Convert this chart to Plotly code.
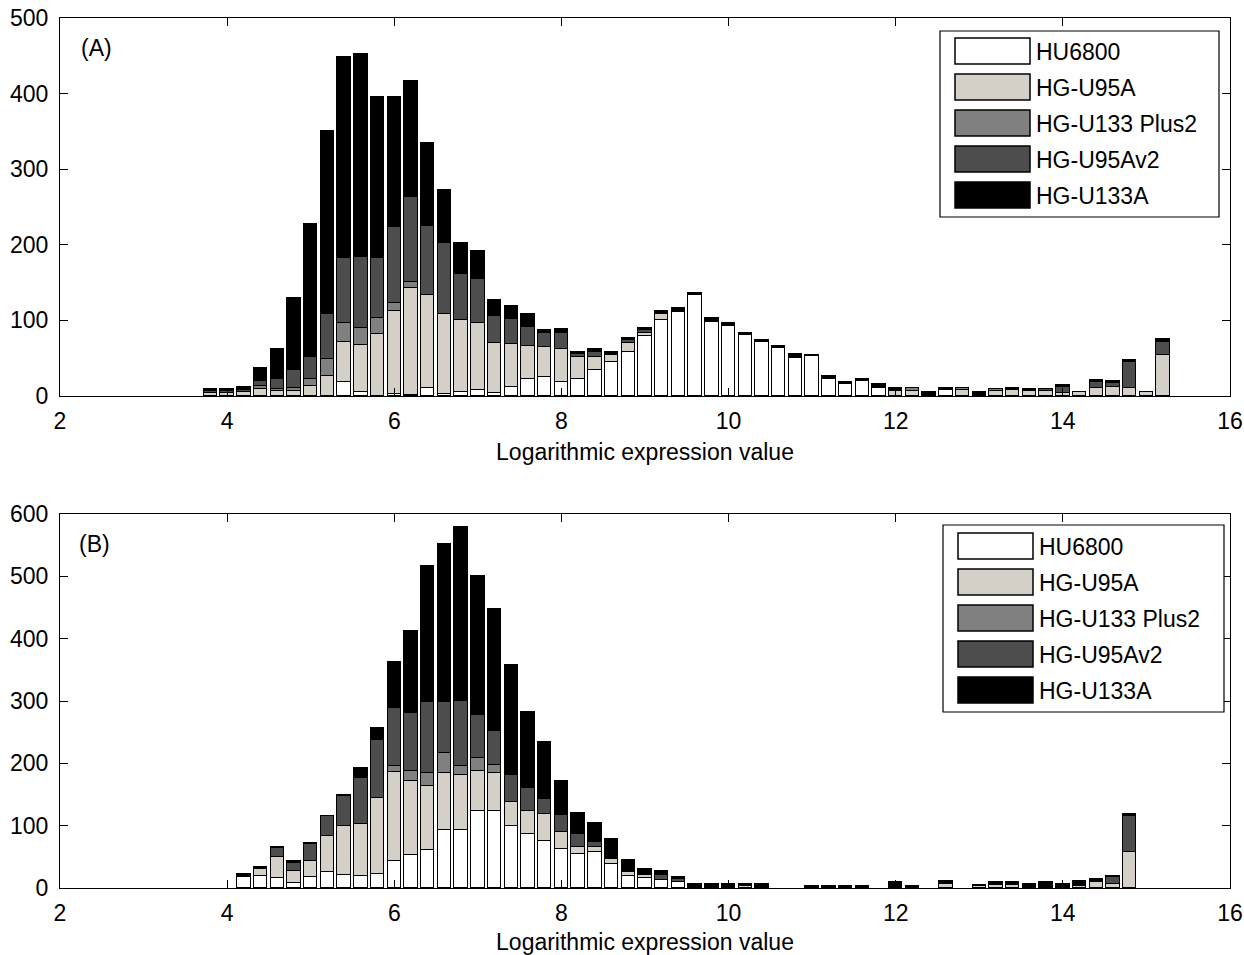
import plotly.graph_objects as go

# ---------------- data ----------------
series_names = ["HU6800", "HG-U95A", "HG-U133 Plus2", "HG-U95Av2", "HG-U133A"]
series_colors = ["#ffffff", "#d4d0c8", "#808080", "#4d4d4d", "#000000"]

bins_a = [3.8, 4.0, 4.2, 4.4, 4.6, 4.8, 5.0, 5.2, 5.4, 5.6, 5.8, 6.0, 6.2, 6.4, 6.6, 6.8,
          7.0, 7.2, 7.4, 7.6, 7.8, 8.0, 8.2, 8.4, 8.6, 8.8, 9.0, 9.2, 9.4, 9.6, 9.8, 10.0,
          10.2, 10.4, 10.6, 10.8, 11.0, 11.2, 11.4, 11.6, 11.8, 12.0, 12.2, 12.4, 12.6, 12.8,
          13.0, 13.2, 13.4, 13.6, 13.8, 14.0, 14.2, 14.4, 14.6, 14.8, 15.0, 15.2]
a_hu6800 = [0, 0, 0, 0, 0, 0, 0, 0, 19, 5, 0, 3, 1, 10, 2, 5,
            8, 4, 12, 22, 25, 19, 22, 35, 45, 58, 79, 100, 111, 133, 98, 93,
            81, 72, 63, 50, 53, 22, 16, 20, 10, 0, 0, 0, 8, 0,
            0, 0, 0, 0, 0, 0, 0, 0, 0, 0, 0, 0]
a_u95a = [4, 4, 5, 9, 7, 6, 13, 27, 53, 63, 82, 110, 142, 124, 106, 96,
          89, 66, 57, 44, 40, 43, 29, 16, 9, 12, 4, 8, 0, 0, 0, 0,
          0, 0, 0, 0, 0, 0, 0, 0, 0, 6, 6, 0, 0, 8,
          0, 6, 8, 6, 7, 4, 5, 10, 12, 10, 5, 54]
a_u133plus2 = [0, 0, 0, 4, 2, 4, 9, 22, 24, 22, 21, 10, 8, 0, 0, 0,
               0, 0, 0, 0, 0, 0, 0, 0, 0, 0, 0, 0, 0, 0, 0, 0,
               0, 0, 0, 0, 0, 0, 0, 0, 0, 0, 5, 0, 0, 3,
               0, 3, 0, 0, 0, 0, 0, 0, 0, 0, 0, 0]
a_u95av2 = [2, 2, 3, 7, 13, 25, 30, 60, 86, 94, 80, 100, 112, 91, 94, 61,
            58, 36, 33, 25, 19, 21, 4, 7, 0, 4, 4, 0, 0, 0, 0, 0,
            0, 0, 0, 0, 0, 0, 0, 0, 0, 0, 0, 0, 0, 0,
            0, 0, 0, 0, 2, 8, 0, 8, 5, 35, 0, 18]
a_u133a = [3, 3, 4, 17, 40, 95, 176, 241, 266, 268, 213, 172, 154, 110, 70, 40,
           37, 21, 17, 18, 3, 5, 3, 4, 4, 3, 3, 4, 5, 3, 5, 3,
           3, 2, 3, 6, 1, 4, 3, 3, 6, 4, 0, 5, 3, 0,
           5, 0, 3, 3, 0, 3, 0, 3, 3, 2, 0, 3]

bins_b = [4.2, 4.4, 4.6, 4.8, 5.0, 5.2, 5.4, 5.6, 5.8, 6.0, 6.2, 6.4, 6.6, 6.8, 7.0, 7.2,
          7.4, 7.6, 7.8, 8.0, 8.2, 8.4, 8.6, 8.8, 9.0, 9.2, 9.4, 9.6, 9.8, 10.0, 10.2, 10.4,
          10.6, 10.8, 11.0, 11.2, 11.4, 11.6, 11.8, 12.0, 12.2, 12.4, 12.6, 12.8, 13.0, 13.2,
          13.4, 13.6, 13.8, 14.0, 14.2, 14.4, 14.6, 14.8]
b_hu6800 = [18, 19, 16, 8, 17, 26, 21, 19, 23, 43, 53, 61, 93, 93, 124, 124,
            99, 86, 75, 63, 54, 57, 38, 20, 16, 13, 9, 0, 0, 0, 0, 0,
            0, 0, 0, 0, 0, 0, 0, 0, 0, 0, 0, 0, 0, 0,
            0, 0, 0, 0, 0, 0, 0, 0]
b_u95a = [2, 11, 34, 20, 27, 58, 78, 84, 122, 143, 119, 102, 92, 88, 63, 61,
          39, 38, 43, 27, 11, 8, 8, 5, 5, 0, 0, 0, 0, 0, 4, 0,
          0, 0, 0, 0, 0, 0, 0, 0, 0, 0, 6, 0, 4, 5,
          5, 0, 0, 0, 4, 10, 7, 57]
b_u133plus2 = [0, 0, 0, 0, 0, 0, 0, 0, 0, 10, 16, 22, 31, 15, 22, 12,
               0, 0, 0, 0, 0, 0, 0, 0, 0, 0, 0, 0, 0, 0, 0, 0,
               0, 0, 0, 0, 0, 0, 0, 0, 0, 0, 0, 0, 0, 0,
               0, 0, 0, 0, 0, 0, 0, 0]
b_u95av2 = [0, 0, 14, 12, 27, 31, 49, 74, 92, 93, 93, 114, 83, 104, 68, 55,
            43, 36, 25, 27, 22, 9, 0, 0, 0, 8, 5, 0, 0, 0, 0, 0,
            0, 0, 0, 0, 0, 0, 0, 0, 0, 0, 0, 0, 0, 0,
            0, 0, 0, 0, 0, 0, 10, 58]
b_u133a = [3, 3, 2, 3, 2, 1, 1, 16, 20, 73, 132, 218, 253, 279, 223, 195,
           177, 122, 92, 54, 34, 30, 33, 20, 9, 6, 3, 6, 6, 6, 2, 6,
           0, 0, 3, 3, 3, 3, 0, 9, 3, 0, 6, 0, 1, 4,
           4, 6, 9, 6, 8, 5, 3, 4]

x_ticks = [2, 4, 6, 8, 10, 12, 14, 16]
ya_ticks = [0, 100, 200, 300, 400, 500]
yb_ticks = [0, 100, 200, 300, 400, 500, 600]
x_title = "Logarithmic expression value"

# ---------------- figure ----------------
W, H = 1244, 955
ML, MR, MT, MB = 60, 14, 18, 67
PW, PH = W - ML - MR, H - MT - MB


def PX(px):
    return (px - ML) / PW


def PY(py):
    return (H - MB - py) / PH


FONT = "Liberation Sans, Arial, sans-serif"
fig = go.Figure()


def nz(v):
    return [None if t == 0 else t for t in v]


panel_a = [a_hu6800, a_u95a, a_u133plus2, a_u95av2, a_u133a]
panel_b = [b_hu6800, b_u95a, b_u133plus2, b_u95av2, b_u133a]
for name, col, vals in zip(series_names, series_colors, panel_a):
    fig.add_trace(go.Bar(x=bins_a, y=nz(vals), name=name, width=0.16,
                         marker=dict(color=col, line=dict(color="black", width=1.4)),
                         xaxis="x", yaxis="y", showlegend=False))
for name, col, vals in zip(series_names, series_colors, panel_b):
    fig.add_trace(go.Bar(x=bins_b, y=nz(vals), name=name, width=0.16,
                         marker=dict(color=col, line=dict(color="black", width=1.4)),
                         xaxis="x2", yaxis="y2", showlegend=False))

ax_common = dict(showline=True, linecolor="black", linewidth=1, mirror="ticks",
                 ticks="inside", ticklen=8, tickcolor="black", tickwidth=1,
                 showgrid=False, zeroline=False, automargin=False,
                 tickfont=dict(family=FONT, size=23, color="black"))

a_top, a_bot = 18, 396
b_top, b_bot = 514, 888

fig.update_layout(
    template="none",
    width=W, height=H, autosize=False,
    margin=dict(l=ML, r=MR, t=MT, b=MB, pad=0),
    paper_bgcolor="white", plot_bgcolor="white",
    barmode="stack", bargap=0,
    font=dict(family=FONT, size=23, color="black"),
    xaxis=dict(domain=[0, 1], anchor="y", range=[2, 16], tickvals=x_ticks,
               ticklabelstandoff=4,
               title=dict(text=x_title, standoff=11, font=dict(family=FONT, size=23)),
               **ax_common),
    yaxis=dict(domain=[PY(a_bot), PY(a_top)], anchor="x", range=[0, 500],
               tickvals=ya_ticks, ticklabelstandoff=6, **ax_common),
    xaxis2=dict(domain=[0, 1], anchor="y2", range=[2, 16], tickvals=x_ticks,
                ticklabelstandoff=4,
                title=dict(text=x_title, standoff=11, font=dict(family=FONT, size=23)),
                **ax_common),
    yaxis2=dict(domain=[PY(b_bot), PY(b_top)], anchor="x2", range=[0, 600],
                tickvals=yb_ticks, ticklabelstandoff=6, **ax_common),
)

# panel labels
fig.add_annotation(text="(A)", x=PX(96), y=PY(48), xref="paper", yref="paper",
                   xanchor="center", yanchor="middle",
                   showarrow=False, font=dict(family=FONT, size=23))
fig.add_annotation(text="(B)", x=PX(94), y=PY(544), xref="paper", yref="paper",
                   xanchor="center", yanchor="middle",
                   showarrow=False, font=dict(family=FONT, size=23))

# legends (MATLAB style boxes)
def draw_legend(box, sw_x, row_tops, text_x):
    x0, y0, x1, y1 = box
    fig.add_shape(type="rect", xref="paper", yref="paper",
                  x0=PX(x0), x1=PX(x1), y0=PY(y1), y1=PY(y0),
                  line=dict(color="black", width=1.2), fillcolor="white", layer="above")
    for name, col, top in zip(series_names, series_colors, row_tops):
        fig.add_shape(type="rect", xref="paper", yref="paper",
                      x0=PX(sw_x[0]), x1=PX(sw_x[1]), y0=PY(top + 26), y1=PY(top),
                      line=dict(color="black", width=1.5), fillcolor=col, layer="above")
        fig.add_annotation(text=name, x=PX(text_x), y=PY(top + 14), xref="paper", yref="paper",
                           xanchor="left", yanchor="middle", showarrow=False,
                           font=dict(family=FONT, size=23, color="black"))


draw_legend((940, 31, 1219, 217), (955, 1030), [38, 74, 110, 146, 182], 1034)
draw_legend((943, 525, 1224, 712), (958, 1033), [533, 569, 605, 641, 677], 1037)

fig.write_html("out.html", config={"displayModeBar": False},
               post_script="document.body.style.margin='0';")
